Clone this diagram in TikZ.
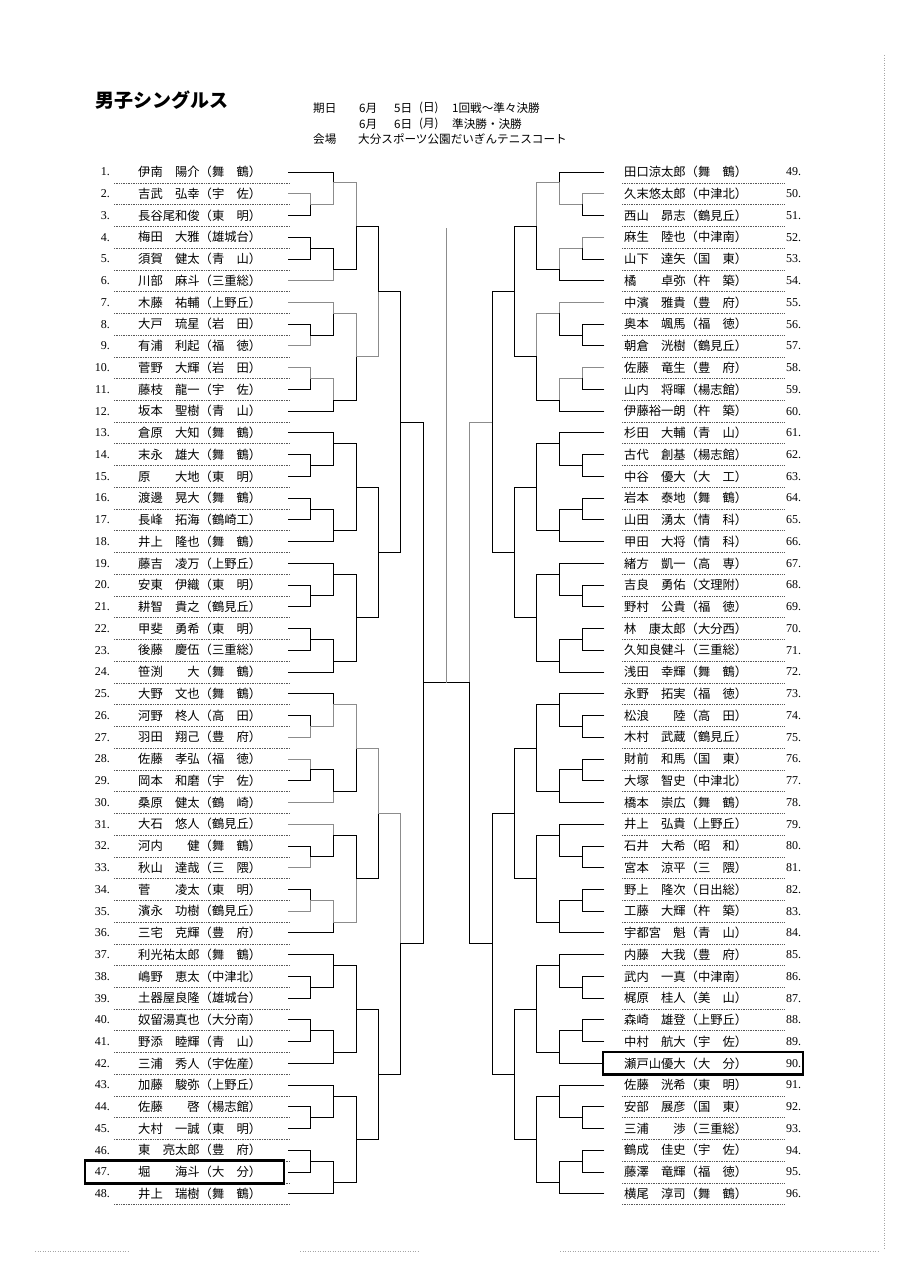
\documentclass[tikz,border=0pt]{standalone}
\usepackage{fontspec}
\setmainfont{Liberation Serif}
\newfontfamily\jp{Noto Sans CJK JP}
\colorlet{wincol}{black!45}
\tikzset{
  br/.style={line width=0.9pt,line cap=rect},
  sep/.style={line width=0.6pt,black!65,dash pattern=on 0.8pt off 0.9pt},
  nm/.style={anchor=west,inner sep=0pt,font=\jp\fontsize{12.3}{13}\selectfont},
  num/.style={inner sep=0pt,font=\fontsize{12}{13}\selectfont},
  hd/.style={anchor=west,inner sep=0pt,font=\jp\fontsize{11.6}{12}\selectfont},
  hibox/.style={line width=2.6pt},
  edge/.style={black!35,line width=0.8pt,dash pattern=on 1pt off 1.5pt}
}
\newcommand\Y[1]{(172+((#1)-1)*21.74)}
\newcommand\mt[7]{%
  \ifnum#7=1 \def\ct{wincol}\else\def\ct{black}\fi
  \ifnum#7=2 \def\cb{wincol}\else\def\cb{black}\fi
  \draw[br,draw=\ct] ({446+(\s)*(#1)},{\Y{#4}}) -- ({446+(\s)*(#3)},{\Y{#4}}) -- ({446+(\s)*(#3)},{\Y{#6}});
  \draw[br,draw=\cb] ({446+(\s)*(#2)},{\Y{#5}}) -- ({446+(\s)*(#3)},{\Y{#5}}) -- ({446+(\s)*(#3)},{\Y{#6}});
}
\newcommand\gsix[6]{%
  \mt{158}{158}{136}{#1+1}{#1+2}{#1+1.5}{#2}
  \mt{158}{158}{136}{#1+3}{#1+4}{#1+3.5}{#3}
  \mt{158}{136}{113}{#1}{#1+1.5}{#1+0.5}{#4}
  \mt{136}{158}{113}{#1+3.5}{#1+5}{#1+4.5}{#5}
  \mt{113}{113}{90}{#1+0.5}{#1+4.5}{#1+2.5}{#6}
}
\begin{document}
\begin{tikzpicture}[x=1pt,y=-1pt]
\useasboundingbox (0,0) rectangle (906,1283);
\fill[white] (0,0) rectangle (906,1283);
% header
\node[anchor=west,inner sep=0pt,font=\jp\bfseries\fontsize{19}{20}\selectfont] (title) at (95,100) {男子シングルス};
\node[hd] (h1) at (313,108) {期日};
\node[hd] (h2) at (359,108) {6月};
\node[hd] (h3) at (394,108) {5日};
\node[hd] (h4) at (419,108) {(日)};
\node[hd] (h5) at (452,108) {1回戦～準々決勝};
\node[hd] (h6) at (359,124) {6月};
\node[hd] (h7) at (394,124) {6日};
\node[hd] (h8) at (419,124) {(月)};
\node[hd] (h9) at (452,124) {準決勝・決勝};
\node[hd] (h10) at (313,139) {会場};
\node[hd] (h11) at (358,139) {大分スポーツ公園だいぎんテニスコート};
% scan edges
\draw[edge] (884,55) -- (884,1250);
\draw[edge] (35,1251) -- (130,1251);
\draw[edge] (300,1251) -- (420,1251);
\draw[edge] (560,1251) -- (880,1251);
% left names
\foreach \t [count=\i] in {伊南　陽介（舞　鶴）,吉武　弘幸（宇　佐）,長谷尾和俊（東　明）,梅田　大雅（雄城台）,須賀　健太（青　山）,川部　麻斗（三重総）,木藤　祐輔（上野丘）,大戸　琉星（岩　田）,有浦　利起（福　徳）,菅野　大輝（岩　田）,藤枝　龍一（宇　佐）,坂本　聖樹（青　山）,倉原　大知（舞　鶴）,末永　雄大（舞　鶴）,原　　大地（東　明）,渡邊　晃大（舞　鶴）,長峰　拓海（鶴崎工）,井上　隆也（舞　鶴）,藤吉　凌万（上野丘）,安東　伊織（東　明）,耕智　貴之（鶴見丘）,甲斐　勇希（東　明）,後藤　慶伍（三重総）,笹渕　　大（舞　鶴）,大野　文也（舞　鶴）,河野　柊人（高　田）,羽田　翔己（豊　府）,佐藤　孝弘（福　徳）,岡本　和磨（宇　佐）,桑原　健太（鶴　崎）,大石　悠人（鶴見丘）,河内　　健（舞　鶴）,秋山　達哉（三　隈）,菅　　凌太（東　明）,濱永　功樹（鶴見丘）,三宅　克輝（豊　府）,利光祐太郎（舞　鶴）,嶋野　恵太（中津北）,土器屋良隆（雄城台）,奴留湯真也（大分南）,野添　睦輝（青　山）,三浦　秀人（宇佐産）,加藤　駿弥（上野丘）,佐藤　　啓（楊志館）,大村　一誠（東　明）,東　亮太郎（豊　府）,堀　　海斗（大　分）,井上　瑞樹（舞　鶴）}{
  \node[num,anchor=east] (n\i) at (110,{\Y{\i}}) {\i.};
  \node[nm] (p\i) at (138,{\Y{\i}}) {\t};
  \draw[sep] (114,{\Y{\i}+10.9}) -- (290,{\Y{\i}+10.9});
}
% right names
\foreach \t [count=\i] in {田口涼太郎（舞　鶴）,久末悠太郎（中津北）,西山　昴志（鶴見丘）,麻生　陸也（中津南）,山下　達矢（国　東）,橘　　卓弥（杵　築）,中濱　雅貴（豊　府）,奥本　颯馬（福　徳）,朝倉　洸樹（鶴見丘）,佐藤　竜生（豊　府）,山内　将暉（楊志館）,伊藤裕一朗（杵　築）,杉田　大輔（青　山）,古代　創基（楊志館）,中谷　優大（大　工）,岩本　泰地（舞　鶴）,山田　湧太（情　科）,甲田　大将（情　科）,緒方　凱一（高　専）,吉良　勇佑（文理附）,野村　公貴（福　徳）,林　康太郎（大分西）,久知良健斗（三重総）,浅田　幸輝（舞　鶴）,永野　拓実（福　徳）,松浪　　陸（高　田）,木村　武蔵（鶴見丘）,財前　和馬（国　東）,大塚　智史（中津北）,橋本　崇広（舞　鶴）,井上　弘貴（上野丘）,石井　大希（昭　和）,宮本　涼平（三　隈）,野上　隆次（日出総）,工藤　大輝（杵　築）,宇都宮　魁（青　山）,内藤　大我（豊　府）,武内　一真（中津南）,梶原　桂人（美　山）,森崎　雄登（上野丘）,中村　航大（宇　佐）,瀬戸山優大（大　分）,佐藤　洸希（東　明）,安部　展彦（国　東）,三浦　　渉（三重総）,鶴成　佳史（宇　佐）,藤澤　竜輝（福　徳）,横尾　淳司（舞　鶴）}{
  \pgfmathtruncatemacro\k{\i+48}
  \node[num,anchor=west] (n\k) at (786,{\Y{\i}}) {\k.};
  \node[nm] (p\k) at (624,{\Y{\i}}) {\t};
  \draw[sep] (622,{\Y{\i}+10.9}) -- (785,{\Y{\i}+10.9});
}
% highlight boxes
\draw[hibox] (85,{\Y{47}-11.3}) rectangle (284,{\Y{47}+11.3});
\draw[hibox] (603,{\Y{42}-11.3}) rectangle (803,{\Y{42}+11.3});
% left bracket
\def\s{-1}
\gsix{1}{1}{0}{2}{2}{1}
\gsix{7}{2}{1}{1}{1}{1}
\mt{90}{90}{68}{3.5}{9.5}{6.5}{2}
\gsix{13}{0}{0}{0}{0}{0}
\gsix{19}{0}{0}{0}{0}{0}
\mt{90}{90}{68}{15.5}{21.5}{18.5}{0}
\mt{68}{68}{46}{6.5}{18.5}{12.5}{0}
\gsix{25}{2}{1}{2}{2}{1}
\gsix{31}{2}{2}{1}{1}{2}
\mt{90}{90}{68}{27.5}{33.5}{30.5}{1}
\gsix{37}{0}{0}{0}{0}{0}
\gsix{43}{0}{0}{0}{0}{0}
\mt{90}{90}{68}{39.5}{45.5}{42.5}{0}
\mt{68}{68}{46}{30.5}{42.5}{36.5}{1}
\mt{46}{46}{23}{12.5}{36.5}{24.5}{0}
% right bracket
\def\s{1}
\gsix{1}{1}{1}{2}{1}{1}
\gsix{7}{0}{1}{1}{1}{1}
\mt{90}{90}{68}{3.5}{9.5}{6.5}{0}
\gsix{13}{0}{0}{0}{0}{0}
\gsix{19}{0}{0}{0}{0}{0}
\mt{90}{90}{68}{15.5}{21.5}{18.5}{0}
\mt{68}{68}{46}{6.5}{18.5}{12.5}{0}
\gsix{25}{0}{0}{0}{0}{0}
\gsix{31}{0}{0}{0}{0}{0}
\mt{90}{90}{68}{27.5}{33.5}{30.5}{0}
\gsix{37}{0}{0}{0}{0}{0}
\gsix{43}{0}{0}{0}{0}{0}
\mt{90}{90}{68}{39.5}{45.5}{42.5}{0}
\mt{68}{68}{46}{30.5}{42.5}{36.5}{0}
\mt{46}{46}{23}{12.5}{36.5}{24.5}{1}
% final
\coordinate (fl) at (423,{\Y{24.5}});
\coordinate (fr) at (469,{\Y{24.5}});
\coordinate (fc) at (446,{\Y{24.5}});
\coordinate (champ) at (446,228);
\draw[br] (fl) -- (fr);
\draw[br,draw=wincol] (fc) -- (champ);
\end{tikzpicture}
\end{document}
